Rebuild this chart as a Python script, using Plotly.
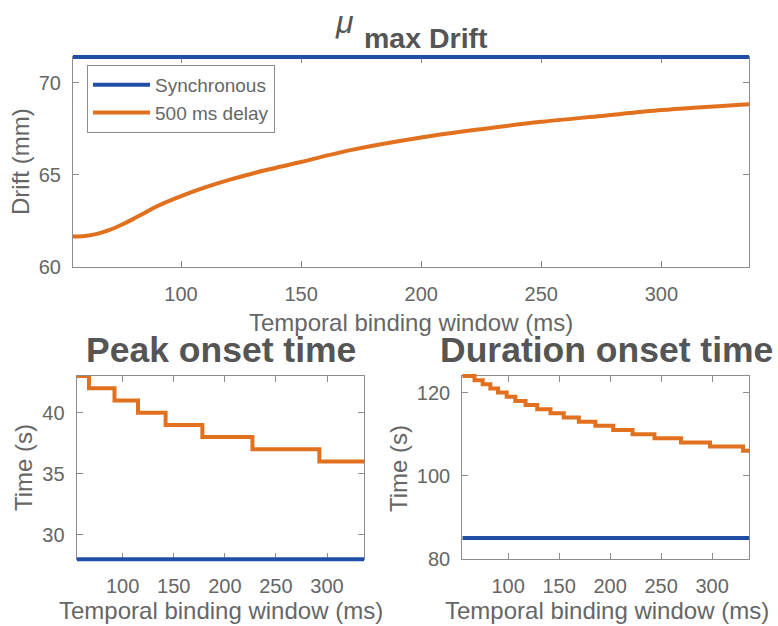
import plotly.graph_objects as go

# Temporal binding window extent (ms)
tbw_min = 55
tbw_max = 336.5

# mu_max drift (mm) versus temporal binding window
drift_tbw = [55, 60, 65, 70, 75, 80, 85, 90, 100, 110, 120, 135, 150, 170, 200, 225,
             250, 275, 300, 336.5]
drift_delay = [61.65, 61.68, 61.8, 62.0, 62.28, 62.6, 62.95, 63.3, 63.85, 64.32, 64.73,
               65.25, 65.7, 66.33, 67.03, 67.48, 67.88, 68.2, 68.52, 68.84]
drift_sync = 71.4

# Peak onset time (s): window value where each level starts
peak_tbw = [55, 67, 92, 115, 142, 178, 227, 292.5, 336.5]
peak_delay = [43, 42, 41, 40, 39, 38, 37, 36, 36]
peak_sync = 28

# Duration onset time (s): window value where each level starts
dur_tbw = [55, 67, 75, 82.5, 90, 98.5, 107, 117, 128.5, 141.5, 154.5, 169.3, 185.5,
           203, 222, 243.5, 269.5, 298, 330.4, 336.5]
dur_delay = [124, 123, 122, 121, 120, 119, 118, 117, 116, 115, 114, 113, 112,
             111, 110, 109, 108, 107, 106, 106]
dur_sync = 85

series_names = ["Synchronous", "500 ms delay"]
BLUE = "#1F4FA5"
ORANGE = "#E2711F"
AXIS = "#8c8c8c"
TICK_TXT = "#666666"
TITLE_TXT = "#555555"
FONT = "Liberation Sans, Arial, Helvetica, sans-serif"

W, H = 778, 626
PAD = 5  # extra room so lines lying on the frame are not cut in half


def px_x(p):
    return p / W


def px_y(p):
    return 1 - p / H


# panel boxes in pixels: (left, right, top, bottom) and their value ranges
panels = [
    dict(box=(73, 749, 57, 267), yrange=(60, drift_sync), yticks=[60, 65, 70]),
    dict(box=(76.7, 364.3, 376, 559.3), yrange=(peak_sync, 43), yticks=[30, 35, 40]),
    dict(box=(462.3, 749.3, 376, 558.7), yrange=(80, 124), yticks=[80, 100, 120]),
]

axis_common = dict(showline=True, linecolor=AXIS, linewidth=1.2, mirror="ticks",
                   ticks="inside", ticklen=6, tickwidth=1.2, tickcolor=AXIS,
                   showgrid=False, zeroline=False, layer="below traces",
                   automargin=False,
                   tickfont=dict(size=20, color=TICK_TXT, family=FONT))

layout_axes = {}
for i, p in enumerate(panels):
    l, r, t, b = p["box"]
    lo, hi = p["yrange"]
    n = i + 1
    sx = "" if n == 1 else str(n)
    # framed axes with ticks and labels
    layout_axes["xaxis" + sx] = dict(axis_common, domain=[px_x(l), px_x(r)],
                                     anchor="y" + sx, range=[tbw_min, tbw_max],
                                     tickvals=[100, 150, 200, 250, 300],
                                     ticklabelstandoff=9)
    layout_axes["yaxis" + sx] = dict(axis_common, domain=[px_y(b), px_y(t)],
                                     anchor="x" + sx, range=[lo, hi],
                                     tickvals=p["yticks"], ticklabelstandoff=7)
    # same scale on a slightly taller area, for lines that sit on the frame
    upp = (hi - lo) / (b - t)
    m = str(n + 3)
    layout_axes["xaxis" + m] = dict(domain=[px_x(l), px_x(r)], anchor="y" + m,
                                    range=[tbw_min, tbw_max], visible=False,
                                    automargin=False, fixedrange=True)
    layout_axes["yaxis" + m] = dict(domain=[px_y(b + PAD), px_y(t - PAD)], anchor="x" + m,
                                    range=[lo - PAD * upp, hi + PAD * upp],
                                    visible=False, automargin=False, fixedrange=True)

fig = go.Figure()

# --- top panel ---
fig.add_trace(go.Scatter(x=[tbw_min, tbw_max], y=[drift_sync, drift_sync], mode="lines",
                         name=series_names[0], line=dict(color=BLUE, width=4),
                         xaxis="x4", yaxis="y4"))
fig.add_trace(go.Scatter(x=drift_tbw, y=drift_delay, mode="lines", name=series_names[1],
                         line=dict(color=ORANGE, width=4, shape="spline", smoothing=0.8),
                         xaxis="x", yaxis="y"))

# --- peak onset panel ---
fig.add_trace(go.Scatter(x=[tbw_min, tbw_max], y=[peak_sync, peak_sync], mode="lines",
                         line=dict(color=BLUE, width=4), showlegend=False,
                         xaxis="x5", yaxis="y5"))
fig.add_trace(go.Scatter(x=peak_tbw, y=peak_delay, mode="lines",
                         line=dict(color=ORANGE, width=4, shape="hv"), showlegend=False,
                         xaxis="x2", yaxis="y2"))

# --- duration onset panel ---
fig.add_trace(go.Scatter(x=[tbw_min, tbw_max], y=[dur_sync, dur_sync], mode="lines",
                         line=dict(color=BLUE, width=4), showlegend=False,
                         xaxis="x3", yaxis="y3"))
fig.add_trace(go.Scatter(x=dur_tbw, y=dur_delay, mode="lines",
                         line=dict(color=ORANGE, width=4, shape="hv"), showlegend=False,
                         xaxis="x6", yaxis="y6"))

fig.update_layout(
    width=W, height=H,
    margin=dict(l=0, r=0, t=0, b=0),
    paper_bgcolor="white", plot_bgcolor="rgba(0,0,0,0)",
    font=dict(family=FONT, color=TICK_TXT),
    legend=dict(x=px_x(87), y=px_y(65), xanchor="left", yanchor="top",
                bgcolor="white", bordercolor=AXIS, borderwidth=1,
                font=dict(size=19, color=TICK_TXT, family=FONT),
                itemwidth=57, tracegroupgap=0),
    showlegend=True,
    **layout_axes,
)

ann = []
lab = dict(size=24, color=TICK_TXT, family=FONT)
ann.append(dict(text="Temporal binding window (ms)", x=px_x(411), y=px_y(322), font=lab))
ann.append(dict(text="Temporal binding window (ms)", x=px_x(220.5), y=px_y(610), font=lab))
ann.append(dict(text="Temporal binding window (ms)", x=px_x(607), y=px_y(610), font=lab))
ann.append(dict(text="Drift (mm)", x=px_x(21), y=px_y(162), font=lab, textangle=-90))
ann.append(dict(text="Time (s)", x=px_x(23), y=px_y(468), font=lab, textangle=-90))
ann.append(dict(text="Time (s)", x=px_x(398), y=px_y(468), font=lab, textangle=-90))

ttl = dict(size=35.5, color=TITLE_TXT, family=FONT)
ann.append(dict(text="<b>Peak onset time</b>", x=px_x(220.5), y=px_y(350), font=ttl))
ann.append(dict(text="<b>Duration onset time</b>", x=px_x(606), y=px_y(350), font=ttl))
ann.append(dict(text="<i>μ</i>", x=px_x(344), y=px_y(22),
                font=dict(size=32, color=TITLE_TXT, family=FONT)))
ann.append(dict(text="<b>max Drift</b>", x=px_x(361.7), y=px_y(38), xanchor="left",
                font=dict(size=28.5, color=TITLE_TXT, family=FONT)))

for a in ann:
    a.setdefault("xanchor", "center")
    a.setdefault("yanchor", "middle")
    a.update(xref="paper", yref="paper", showarrow=False)
fig.update_layout(annotations=ann)

fig.write_html("out.html")
